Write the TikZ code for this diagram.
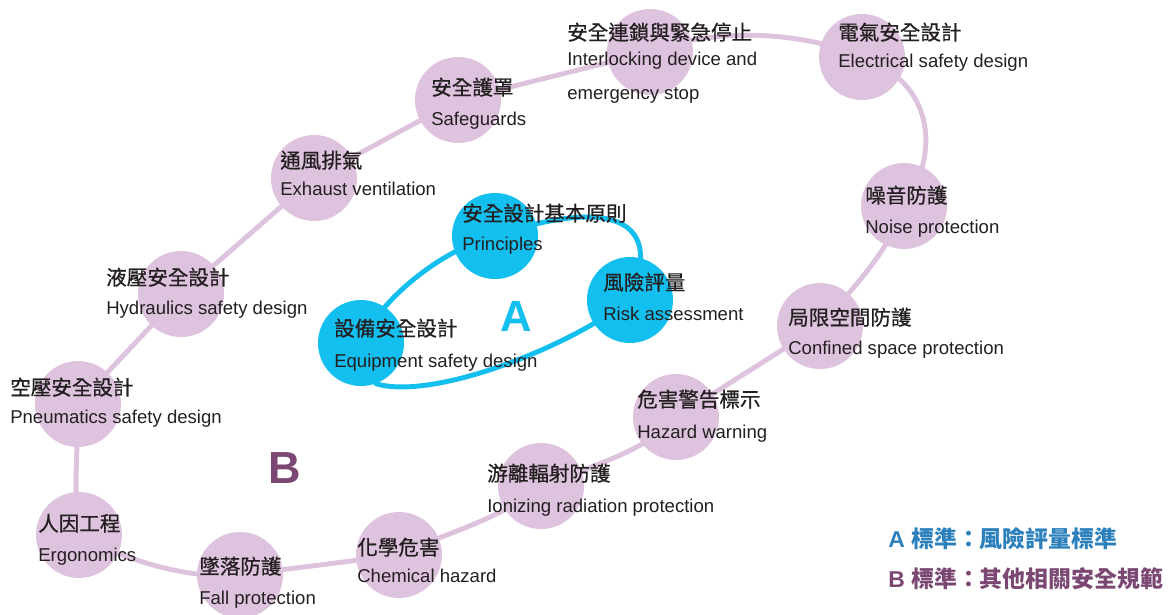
\documentclass[tikz,border=0pt]{standalone}
\usepackage{fontspec}
\setmainfont{Liberation Sans}
\newfontfamily\cjk[FakeBold=0.7]{Noto Sans CJK TC}
\newfontfamily\cjkkey{Noto Sans CJK TC}
\usetikzlibrary{positioning, backgrounds}

\definecolor{pinkish}{RGB}{222,195,222}
\definecolor{skyblue}{RGB}{19,191,239}
\definecolor{darktext}{RGB}{35,31,32}
\definecolor{legendA}{RGB}{44,128,188}
\definecolor{legendB}{RGB}{122,72,114}

\begin{document}
\begin{tikzpicture}[x=0.025cm, y=-0.025cm]
    \tikzstyle{topic}=[circle, fill=pinkish, minimum size=2.15cm, inner sep=0pt]
    \tikzstyle{core}=[circle, fill=skyblue, minimum size=2.15cm, inner sep=0pt]
    \tikzstyle{zh}=[anchor=base west, inner sep=0pt, text=darktext, font=\cjk\fontsize{14.6}{17}\selectfont]
    \tikzstyle{en}=[anchor=base west, inner sep=0pt, text=darktext, font=\fontsize{13.2}{16}\selectfont]
    \tikzstyle{ring}=[line width=3.5pt, line join=round]

    \useasboundingbox (0,0) rectangle (1168,614);

    % outer ring
    \node[topic] (p_1) at (650,52) {};
    \node[topic] (p_2) at (862,57) {};
    \node[topic] (p_3) at (904,206) {};
    \node[topic] (p_4) at (820,326) {};
    \node[topic] (p_5) at (676,417) {};
    \node[topic] (p_6) at (541,486) {};
    \node[topic] (p_7) at (399,555) {};
    \node[topic] (p_8) at (240,575) {};
    \node[topic] (p_9) at (79,535) {};
    \node[topic] (p_10) at (78,404) {};
    \node[topic] (p_11) at (181,294) {};
    \node[topic] (p_12) at (314,178) {};
    \node[topic] (p_13) at (458,100) {};

    % inner ring
    \node[core] (c_1) at (495,236) {};
    \node[core] (c_2) at (630,300) {};
    \node[core] (c_3) at (361,343) {};

    \begin{scope}[on background layer]
        \draw[ring, pinkish] (p_1.center) .. controls (710,28) and (800,30) .. (p_2.center)
            .. controls (932,82) and (942,150) .. (p_3.center)
            .. controls (889,251) and (855,286) .. (p_4.center)
            -- (p_5.center)
            .. controls (650,450) and (586,468) .. (p_6.center)
            .. controls (501,520) and (439,535) .. (p_7.center)
            -- (p_8.center)
            .. controls (190,580) and (124,560) .. (p_9.center)
            .. controls (73,490) and (78,449) .. (p_10.center)
            -- (p_11.center) -- (p_12.center) -- (p_13.center) -- cycle;
        \draw[ring, skyblue] (c_1.center) .. controls (600,200) and (668,212) .. (c_2.center)
            .. controls (560,352) and (430,400) .. (c_3.-70) -- (c_3.center)
            .. controls (380,300) and (440,250) .. (c_1.center) -- cycle;
    \end{scope}

    % labels
    \node[zh] (p_1_zh) at (567,40) {安全連鎖與緊急停止};
    \node[en, align=left] (p_1_en) at (567,99) {Interlocking device and\\[7.5pt]emergency stop};
    \node[zh] (p_2_zh) at (838,40) {電氣安全設計};
    \node[en] (p_2_en) at (838,67) {Electrical safety design};
    \node[zh] (p_3_zh) at (865,203) {噪音防護};
    \node[en] (p_3_en) at (865,233) {Noise protection};
    \node[zh] (p_4_zh) at (788,325) {局限空間防護};
    \node[en] (p_4_en) at (788,354) {Confined space protection};
    \node[zh] (p_5_zh) at (637,407) {危害警告標示};
    \node[en] (p_5_en) at (637,438) {Hazard warning};
    \node[zh] (p_6_zh) at (487,481) {游離輻射防護};
    \node[en] (p_6_en) at (487,512) {Ionizing radiation protection};
    \node[zh] (p_7_zh) at (357,555) {化學危害};
    \node[en] (p_7_en) at (357,582) {Chemical hazard};
    \node[zh] (p_8_zh) at (199,574) {墜落防護};
    \node[en] (p_8_en) at (199,604) {Fall protection};
    \node[zh] (p_9_zh) at (38,531) {人因工程};
    \node[en] (p_9_en) at (38,561) {Ergonomics};
    \node[zh] (p_10_zh) at (10,395) {空壓安全設計};
    \node[en] (p_10_en) at (10,423) {Pneumatics safety design};
    \node[zh] (p_11_zh) at (106,285) {液壓安全設計};
    \node[en] (p_11_en) at (106,314) {Hydraulics safety design};
    \node[zh] (p_12_zh) at (280,168) {通風排氣};
    \node[en] (p_12_en) at (280,195) {Exhaust ventilation};
    \node[zh] (p_13_zh) at (431,95) {安全護罩};
    \node[en] (p_13_en) at (431,125) {Safeguards};

    \node[zh] (c_1_zh) at (462,221) {安全設計基本原則};
    \node[en] (c_1_en) at (462,250) {Principles};
    \node[zh] (c_2_zh) at (603,290) {風險評量};
    \node[en] (c_2_en) at (603,320) {Risk assessment};
    \node[zh] (c_3_zh) at (334,336) {設備安全設計};
    \node[en] (c_3_en) at (334,367) {Equipment safety design};

    \node[text=skyblue, font=\fontsize{31}{31}\bfseries] (mark_a) at (516,316) {A};
    \node[text=legendB, font=\fontsize{32}{32}\bfseries] (mark_b) at (285,468) {B};

    % legend
    \node[anchor=base west, inner sep=0pt, text=legendA, font=\fontsize{16.3}{19}\bfseries] (key_a) at (888,547)
        {A {\cjkkey 標準：風險評量標準}};
    \node[anchor=base west, inner sep=0pt, text=legendB, font=\fontsize{16.3}{19}\bfseries] (key_b) at (888,587)
        {B {\cjkkey 標準：其他相關安全規範}};
\end{tikzpicture}
\end{document}
